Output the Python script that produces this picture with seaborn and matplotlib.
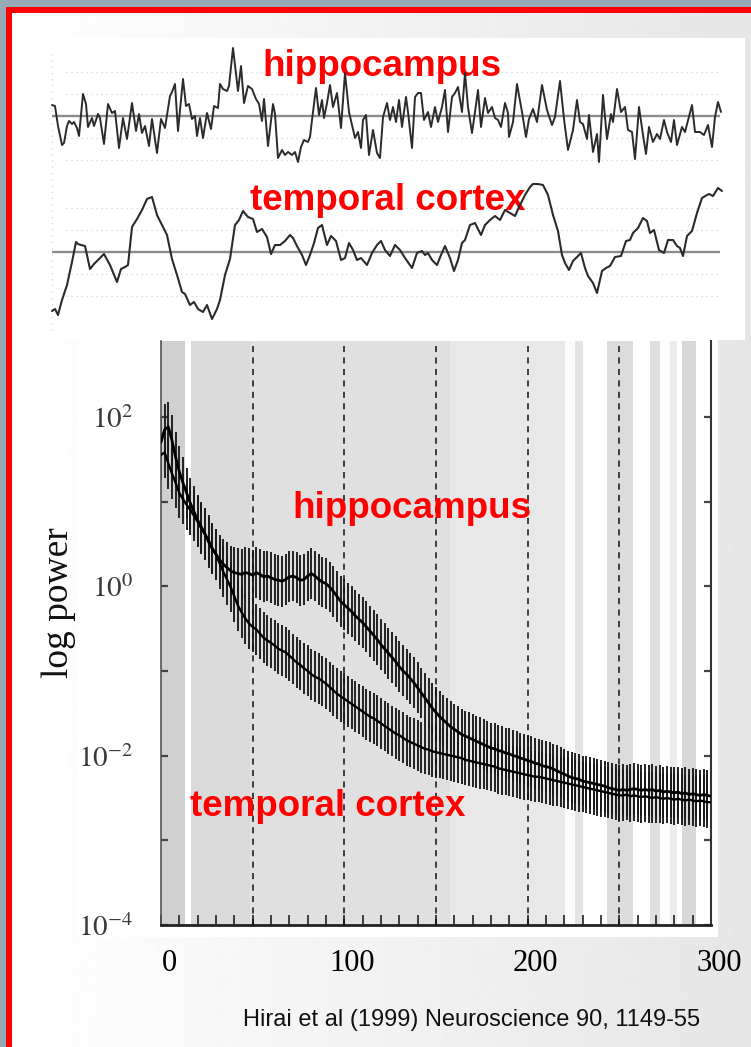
import numpy as np
import matplotlib
matplotlib.use("Agg")
import matplotlib.pyplot as plt
import seaborn as sns
from matplotlib.patches import Rectangle
from matplotlib.ticker import NullLocator
from matplotlib.transforms import ScaledTranslation

# ---------------- data ----------------
# Raw EEG traces (time in samples, amplitude in arbitrary units)
HIPPO_T = [0, 3, 6, 10, 12, 15, 17, 20, 22, 25, 27, 31, 34, 36, 40, 42, 46, 48, 52, 56,
           60, 63, 67, 71, 75, 80, 84, 87, 90, 93, 97, 100, 105, 109, 113, 118, 120, 123, 126, 131,
           134, 137, 140, 143, 145, 148, 151, 155, 159, 162, 166, 168, 171, 175, 177, 181, 186, 189, 192, 196,
           200, 204, 207, 210, 212, 216, 221, 223, 226,
           230, 233, 236, 240, 243, 246, 249, 252, 256, 258, 260, 264, 267, 270, 272, 275, 278, 281, 285, 289,
           293, 297, 300, 303, 306, 309, 311, 314, 317, 321, 325, 328, 331, 335, 338, 341, 344, 347, 350, 354,
           356, 360, 363, 366, 369, 372, 376, 379, 383, 386, 390, 393, 396, 400, 403, 406, 410, 413, 416, 420,
           423, 426, 429, 433, 436, 440, 443, 446, 449, 453, 456,
           457, 461, 465, 470, 474, 477, 481, 485, 490, 495, 500, 503, 508, 512, 516, 521, 525, 528, 531, 535,
           537, 541, 545, 547, 551, 555, 559, 561, 565, 569, 573, 576, 580, 583, 587, 591, 594, 597, 601, 605,
           608, 612, 615, 619, 622, 625, 630, 633, 640, 643, 648, 652, 656, 660, 663, 666, 669]
HIPPO_UV = [11, 10, -10, -29, -27, -10, -5, -8, -6, -12, -20, 22, 12, -11, -2, -10, 2, -2, -28, 12,
            3, 5, -32, -2, -23, 13, -15, 2, -17, -10, -30, -3, -37, -3, -12, 20, 24, 32, -15, 37,
            10, 12, -3, 0, -20, -2, -22, 3, -13, 10, 8, 32, 27, 25, 30, 68, 25, 50, 13, 30,
            27, 17, 12, -5, 17, -30, 12, 2, -42,
            -34, -39, -36, -39, -36, -46, -31, -24, -26, -21, -4, 28, 1, 16, -2, 13, 31, 9, 23, -12,
            43, 4, -9, -22, -16, -32, -4, 1, -39, -14, -37, -42, -1, 13, -4, 9, -6, 16, -11, 19,
            4, -32, 19, 23, 23, -4, 4, -11, 9, -6, 9, 26, -16, 19, 23, 29, 4, 43, 9, -17,
            4, 26, -11, 18, 3, 9, -2, -4, -11, 13, 3,
            -21, -6, 32, 4, -21, -3, 7, -6, 31, 6, -9, -1, 35, -3, -34, -14, 16, -6, -8, -23,
            1, -36, -18, -46, 21, -23, 2, -6, 27, 4, 9, -14, -16, -43, 9, -19, -38, -11, -26, -18,
            -23, -4, -16, -26, -4, -29, -11, -16, 11, -16, -16, -19, -9, -31, -1, 14, 4]

CORTEX_T = [0, 3, 6, 10, 15, 20, 24, 26, 29, 33, 38, 42, 46, 52, 58, 65, 69, 73, 76, 80,
            85, 90, 95, 100, 105, 110, 115, 120, 125, 130, 133, 138, 142, 146, 151, 155, 160, 165, 168, 173,
            178, 183, 187, 191, 196, 201, 205, 210, 215, 219, 223, 228,
            233, 238, 241, 245, 250, 254, 258, 262, 266, 270, 275, 279, 284, 289, 293, 297, 301, 305, 309, 315,
            320, 325, 329, 333, 338, 343, 348, 353, 360, 365, 370, 373, 376, 380, 385, 389, 393, 398, 402, 406,
            410, 413, 418, 423, 429, 433, 438, 443, 448, 453, 458,
            463, 468, 473, 478, 481, 486, 491, 496, 501, 506, 510, 513, 517, 521, 525, 529, 533, 536, 541, 545,
            550, 554, 558, 563, 569, 574, 578, 581, 586, 591, 595, 598, 602, 607, 612, 616, 621, 625, 628, 631,
            635, 640, 645, 650, 655, 657, 661, 666, 670]
CORTEX_UV = [-59, -57, -63, -48, -33, -10, 10, 8, 7, 6, -17, -12, -8, -2, -13, -30, -17, -15, -13, 25,
             33, 42, 53, 55, 37, 27, 17, -7, -23, -40, -42, -53, -50, -57, -60, -53, -67, -57, -48, -23,
             -7, 27, 32, 41, 35, 33, 20, 23, 15, -2, 7, 7,
             11, 17, 14, 6, -3, -13, -3, 9, 24, 27, 7, 16, 11, -8, -6, 9, 2, -8, -6, -13,
             -1, 7, 11, 2, -4, 7, 2, -6, -16, -1, 1, -3, -1, -8, -13, -3, 6, -6, -19, -8,
             9, 12, 27, 29, 17, 27, 32, 36, 32, 42, 39,
             36, 47, 57, 65, 68, 68, 67, 57, 37, 21, -3, -11, -18, -9, -5, -1, -16, -24, -31, -41,
             -19, -16, -14, -5, -4, 11, 12, 19, 24, 34, 31, 19, 22, 2, -1, 12, 12, 6, 4, -4,
             16, 21, 39, 54, 57, 58, 56, 64, 61]

# Power spectra: frequency bins and log10 power (mean), with SE half-width in decades
FREQ = np.arange(0, 301, 2)
HIPPO_LOGPOW = [
    1.70, 1.85, 1.88, 1.72, 1.52, 1.35, 1.22, 1.10, 0.98, 0.88,
    0.78, 0.70, 0.62, 0.52, 0.44, 0.38, 0.31, 0.26, 0.22, 0.18,
    0.16, 0.15, 0.14, 0.16, 0.15, 0.13, 0.16, 0.14, 0.11, 0.12,
    0.10, 0.08, 0.07, 0.06, 0.08, 0.11, 0.12, 0.10, 0.07, 0.08,
    0.12, 0.15, 0.12, 0.08, 0.05, 0.03, -0.01, -0.06, -0.12, -0.18,
    -0.22, -0.26, -0.30, -0.35, -0.39, -0.43, -0.48, -0.53, -0.58, -0.63,
    -0.69, -0.74, -0.79, -0.84, -0.89, -0.95, -1.00, -1.04, -1.09, -1.14,
    -1.20, -1.26, -1.32, -1.38, -1.44, -1.49, -1.54, -1.58, -1.62, -1.66,
    -1.69, -1.72, -1.75, -1.77, -1.79, -1.81, -1.83, -1.85, -1.87, -1.89,
    -1.91, -1.92, -1.94, -1.95, -1.97, -1.98, -2.00, -2.01, -2.03, -2.04,
    -2.06, -2.07, -2.09, -2.10, -2.12, -2.13, -2.14, -2.16, -2.18, -2.20,
    -2.22, -2.24, -2.26, -2.27, -2.28, -2.30, -2.31, -2.32, -2.33, -2.34,
    -2.35, -2.36, -2.38, -2.39, -2.40, -2.41, -2.40, -2.41, -2.40, -2.39,
    -2.40, -2.41, -2.40, -2.41, -2.40, -2.42, -2.41, -2.43, -2.42, -2.43,
    -2.44, -2.43, -2.45, -2.44, -2.46, -2.45, -2.46, -2.47, -2.46, -2.47,
    -2.48]
CORTEX_LOGPOW = [
    1.55, 1.58, 1.45, 1.33, 1.22, 1.10, 1.03, 0.96, 0.90, 0.83,
    0.76, 0.68, 0.61, 0.54, 0.45, 0.37, 0.27, 0.17, 0.08, -0.01,
    -0.12, -0.23, -0.31, -0.38, -0.44, -0.48, -0.51, -0.56, -0.61, -0.64,
    -0.67, -0.70, -0.74, -0.76, -0.78, -0.82, -0.86, -0.90, -0.93, -0.97,
    -1.00, -1.04, -1.07, -1.09, -1.12, -1.15, -1.19, -1.23, -1.27, -1.30,
    -1.33, -1.36, -1.39, -1.42, -1.45, -1.48, -1.51, -1.54, -1.56, -1.59,
    -1.62, -1.65, -1.68, -1.71, -1.74, -1.76, -1.79, -1.82, -1.84, -1.86,
    -1.88, -1.90, -1.92, -1.93, -1.95, -1.96, -1.97, -1.98, -1.99, -2.00,
    -2.01, -2.02, -2.03, -2.05, -2.06, -2.07, -2.08, -2.09, -2.10, -2.11,
    -2.12, -2.13, -2.15, -2.16, -2.17, -2.18, -2.19, -2.20, -2.21, -2.22,
    -2.23, -2.24, -2.25, -2.25, -2.26, -2.27, -2.28, -2.29, -2.30, -2.31,
    -2.32, -2.33, -2.34, -2.35, -2.36, -2.37, -2.38, -2.39, -2.40, -2.41,
    -2.42, -2.43, -2.44, -2.45, -2.46, -2.47, -2.47, -2.46, -2.48, -2.47,
    -2.48, -2.49, -2.48, -2.49, -2.50, -2.49, -2.50, -2.51, -2.50, -2.51,
    -2.52, -2.51, -2.52, -2.53, -2.52, -2.53, -2.54, -2.53, -2.54, -2.55,
    -2.55]
HIPPO_ERR = 0.30
CORTEX_ERR = 0.30

X_TICKS = [0, 100, 200, 300]
X_MINOR_STEP = 10
Y_TICK_EXP = [-4, -3, -2, -1, 0, 1, 2]
Y_LABEL_EXP = [-4, -2, 0, 2]
MARKER_FREQS = [50, 100, 150, 200, 250]
CAPTION = "Hirai et al (1999) Neuroscience 90, 1149-55"

# scanned-background shading bands (frequency span, grey level)
BANDS = [(0, 13.1, '#d0d0d0'), (13.1, 16.4, '#ffffff'), (16.4, 48.5, '#dadada'),
         (48.5, 157.6, '#e0e0e0'), (157.6, 220.4, '#e8e8e8'), (220.4, 225.8, '#fcfcfc'),
         (225.8, 230.2, '#e4e4e4'), (230.2, 243.3, '#ffffff'), (243.3, 257.5, '#dcdcdc'),
         (257.5, 266.7, '#ffffff'), (266.7, 272.2, '#e0e0e0'), (272.2, 277.6, '#fdfdfd'),
         (277.6, 281.5, '#ececec'), (281.5, 284.2, '#ffffff'), (284.2, 291.8, '#d8d8d8'),
         (291.8, 300, '#ffffff')]

# ---------------- style ----------------
sns.set_theme(style="white")
plt.rcParams['font.family'] = ['Liberation Sans', 'DejaVu Sans']
plt.rcParams['mathtext.fontset'] = 'stix'

W, H = 751, 1047
fig = plt.figure(figsize=(W / 100, H / 100), dpi=100)
fig.patch.set_facecolor('#97a9b7')


def fx(px):
    return px / W


def fy(py):
    return 1 - py / H


# slide background: gradient, red frame, white panels
ax_bg = fig.add_axes([0, 0, 1, 1], zorder=0)
ax_bg.axis('off')
grad = np.linspace(1.0, 0.90, 256)[None, :]
ax_bg.imshow(grad, cmap='gray', vmin=0, vmax=1, extent=(12, W, H, 13), aspect='auto',
             interpolation='bilinear')
ax_bg.add_patch(Rectangle((6, 7), W - 6, 6, color='#ff0000', lw=0))
ax_bg.add_patch(Rectangle((6, 7), 6, H - 7, color='#ff0000', lw=0))
ax_bg.add_patch(Rectangle((78, 340), 640, 597, color='white', lw=0))
ax_bg.set_xlim(0, W)
ax_bg.set_ylim(H, 0)

# ---------------- power spectrum panel ----------------
ax = fig.add_axes([fx(161), fy(925), 550 / W, (925 - 341) / H], zorder=1)
ax.set_facecolor('white')
for x0, x1, shade in BANDS:
    ax.axvspan(x0, x1, color=shade, lw=0, zorder=0)
for f in MARKER_FREQS:
    ax.axvline(f, color='#111111', lw=1.1, ls=(0, (4, 3.5)), zorder=3)

hip = np.array(HIPPO_LOGPOW)
ctx = np.array(CORTEX_LOGPOW)
ax.vlines(FREQ, 10 ** (ctx - CORTEX_ERR), 10 ** (ctx + CORTEX_ERR), color='#1a1a1a', lw=1.35, zorder=2)
ax.vlines(FREQ, 10 ** (hip - HIPPO_ERR), 10 ** (hip + HIPPO_ERR), color='#1a1a1a', lw=1.35, zorder=2)
sns.lineplot(x=FREQ, y=10 ** ctx, ax=ax, color='black', lw=1.7, zorder=4, sort=False, estimator=None)
sns.lineplot(x=FREQ, y=10 ** hip, ax=ax, color='black', lw=2.0, zorder=4, sort=False, estimator=None)

ax.set_yscale('log')
ax.set_xlim(0, 300)
ax.set_ylim(1e-4, 10 ** 2.895)
ax.set_yticks([10.0 ** e for e in Y_TICK_EXP])
ax.set_yticklabels([f'$10^{{{e}}}$' if e in Y_LABEL_EXP else '' for e in Y_TICK_EXP])
ax.yaxis.set_minor_locator(NullLocator())
ax.set_xticks(np.arange(0, 301, X_MINOR_STEP))
ax.set_xticklabels([str(int(v)) if v in X_TICKS else '' for v in np.arange(0, 301, X_MINOR_STEP)])
ax.set_xlabel('')
ax.set_ylabel('')
ax.tick_params(axis='y', which='major', direction='in', left=True, right=True, length=5,
               width=1.6, color='#444444', labelsize=21, labelcolor='#3a3a3a', pad=20)
ax.tick_params(axis='x', which='major', direction='in', bottom=True, top=False, length=7,
               width=1.2, color='#222222', labelsize=22, labelcolor='black', pad=17)
for lab in ax.get_xticklabels():
    lab.set_fontfamily('Liberation Serif')
    lab.set_transform(lab.get_transform() + ScaledTranslation(0.08, 0, fig.dpi_scale_trans))
ax.spines['top'].set_visible(False)
ax.spines['left'].set_color('#555555')
ax.spines['left'].set_linewidth(1.2)
ax.spines['right'].set_color('#333333')
ax.spines['right'].set_linewidth(1.5)
ax.spines['bottom'].set_color('#222222')
ax.spines['bottom'].set_linewidth(2.0)

red_font = dict(color='#ff0000', fontsize=26.5, fontweight='bold', family='Liberation Sans',
                ha='center', va='center', zorder=5)
ax.text(137, 10 ** 0.92, 'hippocampus', **red_font)
ax.text(91, 10 ** -2.6, 'temporal cortex', **red_font)

fig.text(fx(59), fy(603), 'log power', rotation=90, ha='center', va='center',
         fontsize=27, family='Liberation Serif', color='#111111')

# ---------------- raw trace panel ----------------
ax_top = fig.add_axes([fx(48), fy(340), 697 / W, 302 / H], zorder=2)
ax_top.set_facecolor('white')
ax_top.set_xlim(-4, 693)
ax_top.set_ylim(0, 302)
HIPPO_BASE, CORTEX_BASE = 224, 88
for base in (HIPPO_BASE, CORTEX_BASE):
    for off in (-44, -22, 22, 44):
        ax_top.hlines(base + off, 14, 668, color='#d4d4d4', lw=0.9, linestyles=(0, (1, 3)), zorder=1)
    ax_top.hlines(base, 0, 668, color='#8c8c8c', lw=1.7, zorder=2)
ax_top.vlines(0, 10, 290, color='#d4d4d4', lw=0.9, linestyles=(0, (1, 4)), zorder=1)

top_font = dict(red_font)
top_font['zorder'] = 2.5
ax_top.text(330, 274, 'hippocampus', **top_font)
ax_top.text(336, 140, 'temporal cortex', **top_font)

sns.lineplot(x=HIPPO_T, y=np.array(HIPPO_UV) + HIPPO_BASE, ax=ax_top, color='#2b2b2b', lw=1.4,
             sort=False, estimator=None, zorder=3)
sns.lineplot(x=CORTEX_T, y=np.array(CORTEX_UV) + CORTEX_BASE, ax=ax_top, color='#2b2b2b', lw=1.5,
             sort=False, estimator=None, zorder=3)
ax_top.set_xticks([])
ax_top.set_yticks([])
ax_top.set_xlabel('')
ax_top.set_ylabel('')
for sp in ax_top.spines.values():
    sp.set_visible(False)

fig.text(fx(472), fy(1020), CAPTION, ha='center', va='center', fontsize=17,
         family='Liberation Sans', color='#111111')

fig.savefig('out.png', dpi=100)
